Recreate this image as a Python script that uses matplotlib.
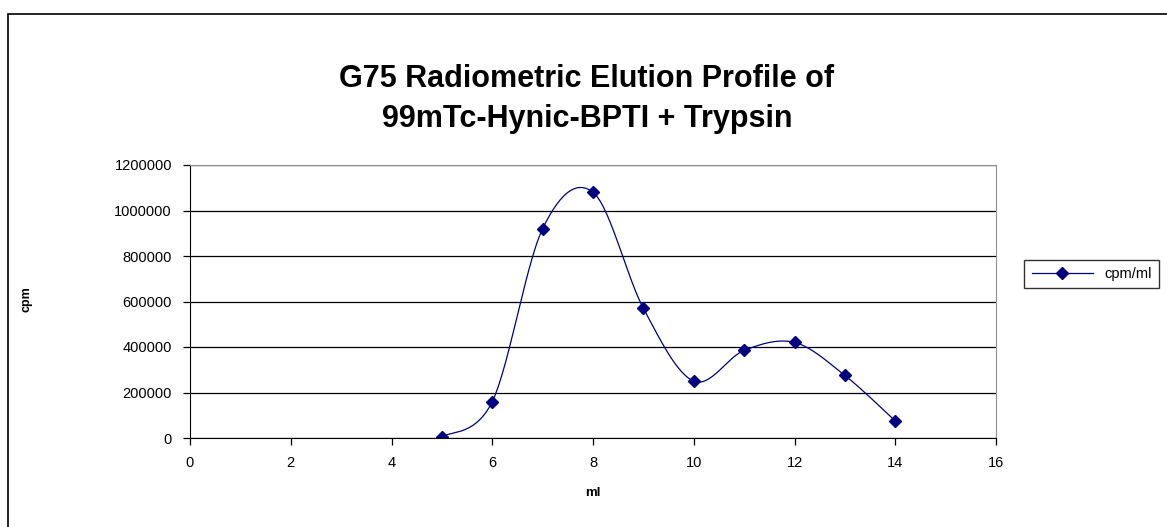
import numpy as np
import matplotlib.pyplot as plt
from matplotlib.patches import Rectangle

# fraction volume (ml) and counts
ml = [5, 6, 7, 8, 9, 10, 11, 12, 13, 14]
cpm = [5000, 160000, 920000, 1080000, 570000, 250000, 385000, 420000, 275000, 75000]

x_ticks = [0, 2, 4, 6, 8, 10, 12, 14, 16]
y_ticks = [0, 200000, 400000, 600000, 800000, 1000000, 1200000]

title = 'G75 Radiometric Elution Profile of\n99mTc-Hynic-BPTI + Trypsin'
series_name = 'cpm/ml'


def smooth(x, y, n=30):
    # excel-style smoothed line (cardinal bezier through the points)
    x = np.asarray(x, float)
    y = np.asarray(y, float)
    px = np.concatenate([[x[0]], x, [x[-1]]])
    py = np.concatenate([[y[0]], y, [y[-1]]])
    xs, ys = [], []
    t = np.linspace(0, 1, n)
    for i in range(1, len(px) - 2):
        p0 = np.array([px[i], py[i]])
        p3 = np.array([px[i + 1], py[i + 1]])
        p1 = p0 + (np.array([px[i + 1], py[i + 1]]) - np.array([px[i - 1], py[i - 1]])) / 6
        p2 = p3 - (np.array([px[i + 2], py[i + 2]]) - np.array([px[i], py[i]])) / 6
        b = ((1 - t) ** 3)[:, None] * p0 + (3 * (1 - t) ** 2 * t)[:, None] * p1 \
            + (3 * (1 - t) * t ** 2)[:, None] * p2 + (t ** 3)[:, None] * p3
        xs.extend(b[:, 0])
        ys.extend(b[:, 1])
    return xs, ys


plt.rcParams['font.family'] = ['Liberation Sans', 'DejaVu Sans']

fig = plt.figure(figsize=(11.67, 5.27), dpi=100)
fig.patches.append(Rectangle((8 / 1167, -0.1), 1.2, 1 - 14 / 527 + 0.1, transform=fig.transFigure,
                             fill=False, edgecolor='black', linewidth=1.2))

ax = fig.add_axes([190 / 1167, 1 - 438 / 527, 806 / 1167, 273 / 527])

sx, sy = smooth(ml, cpm)
ax.plot(sx, sy, color='#000080', linewidth=0.9)
ax.plot(ml, cpm, linestyle='none', marker='D', markersize=6.5, color='#000080')
ax.plot([], [], color='#000080', marker='D', markersize=6.5, linewidth=0.9, label=series_name)

ax.set_xlim(0, 16)
ax.set_ylim(0, 1200000)
ax.set_xticks(x_ticks)
ax.set_xticklabels([str(v) for v in x_ticks])
ax.set_yticks(y_ticks)
ax.set_yticklabels([str(v) for v in y_ticks])
ax.yaxis.grid(True, color='black', linewidth=0.9)
ax.set_axisbelow(True)
for s in ['top', 'right']:
    ax.spines[s].set_color('#909090')
ax.tick_params(direction='out', length=5, width=0.9, labelsize=10.5, pad=8)
ax.set_xlabel('ml', fontsize=9.5, fontweight='bold')
ax.xaxis.set_label_coords(0.5, -0.18)
ax.set_ylabel('cpm', fontsize=9, fontweight='bold')
ax.yaxis.set_label_coords(-0.195, 0.51)

fig.text(0.503, 1 - 99 / 527, title, ha='center', va='center', fontsize=22,
         fontweight='bold', linespacing=1.45)

ax.legend(loc='center left', bbox_to_anchor=(1.026, 0.60), frameon=True, fancybox=False,
          edgecolor='black', fontsize=10.5, handlelength=4.2, borderpad=0.5)

fig.savefig('out.png', dpi=100)
